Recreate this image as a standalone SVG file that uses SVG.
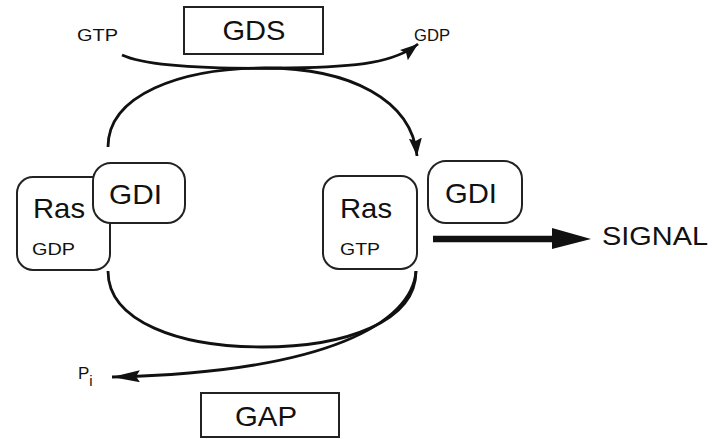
<svg xmlns="http://www.w3.org/2000/svg" width="725" height="439" viewBox="0 0 725 439">
<style>
text{font-family:"Liberation Sans",Arial,sans-serif;fill:#111}
.box{fill:#fff;stroke:#222;stroke-width:2}
.c{fill:none;stroke:#111;stroke-width:2.8}
.big{font-size:28px}
.sm{font-size:17px}
</style>
<defs>
<marker id="ah" markerUnits="userSpaceOnUse" markerWidth="20" markerHeight="14" refX="18" refY="6.5" orient="auto">
<path d="M0,0 L18,6.5 L0,13 L3,6.5 z" fill="#111"/>
</marker>
<marker id="ahl" markerUnits="userSpaceOnUse" markerWidth="30" markerHeight="14" refX="28" refY="6" orient="auto">
<path d="M0,0 L28,6 L0,12 L4,6 z" fill="#111"/>
</marker>
</defs>
<rect width="725" height="439" fill="#fff"/>
<g id="connectors">
<path class="c" d="M122,55 C150,68 230,69 290,68 C360,67 395,62 418,44" marker-end="url(#ah)"/>
<path class="c" d="M108,147 C108,95 180,68 265,68 C350,68 412,100 417,156" marker-end="url(#ah)"/>
<path class="c" d="M108,271 C108,322 180,347 262,347 C345,347 416,322 416,271"/>
<path class="c" d="M416,271 C412,322 330,372 112,377" marker-end="url(#ahl)"/>
<line x1="433" y1="239" x2="556" y2="239" stroke="#111" stroke-width="6.5"/>
<path d="M552,228 L591,239 L552,249 z" fill="#111"/>
</g>
<g id="gds">
<rect class="box" x="184" y="7" width="139" height="47"/>
<text class="big" x="254" y="40" text-anchor="middle" textLength="63" lengthAdjust="spacingAndGlyphs">GDS</text>
</g>
<g id="gtp-top"><text class="sm" x="77" y="41" textLength="41" lengthAdjust="spacingAndGlyphs">GTP</text></g>
<g id="gdp-top"><text class="sm" x="414" y="41" textLength="36" lengthAdjust="spacingAndGlyphs">GDP</text></g>
<g id="ras-gdp">
<rect class="box" x="17" y="177" width="93" height="93" rx="16"/>
<text class="big" x="33" y="218" textLength="52" lengthAdjust="spacingAndGlyphs">Ras</text>
<text class="sm" x="32" y="255" textLength="43" lengthAdjust="spacingAndGlyphs">GDP</text>
</g>
<g id="gdi-left">
<rect class="box" x="93" y="163" width="92" height="60" rx="18"/>
<text class="big" x="109" y="204" textLength="53" lengthAdjust="spacingAndGlyphs">GDI</text>
</g>
<g id="ras-gtp">
<rect class="box" x="323" y="176" width="94" height="93" rx="16"/>
<text class="big" x="340" y="218" textLength="52" lengthAdjust="spacingAndGlyphs">Ras</text>
<text class="sm" x="340" y="255" textLength="40" lengthAdjust="spacingAndGlyphs">GTP</text>
</g>
<g id="gdi-right">
<rect class="box" x="428" y="161" width="94" height="62" rx="18"/>
<text class="big" x="445" y="203" textLength="52" lengthAdjust="spacingAndGlyphs">GDI</text>
</g>
<g id="signal"><text x="602" y="245" font-size="25" textLength="106" lengthAdjust="spacingAndGlyphs">SIGNAL</text></g>
<g id="pi"><text x="78" y="379" font-size="17">P<tspan font-size="15" dy="7">i</tspan></text></g>
<g id="gap">
<rect class="box" x="201" y="393" width="138" height="44"/>
<text class="big" x="266" y="426" text-anchor="middle" textLength="62" lengthAdjust="spacingAndGlyphs">GAP</text>
</g>
</svg>
